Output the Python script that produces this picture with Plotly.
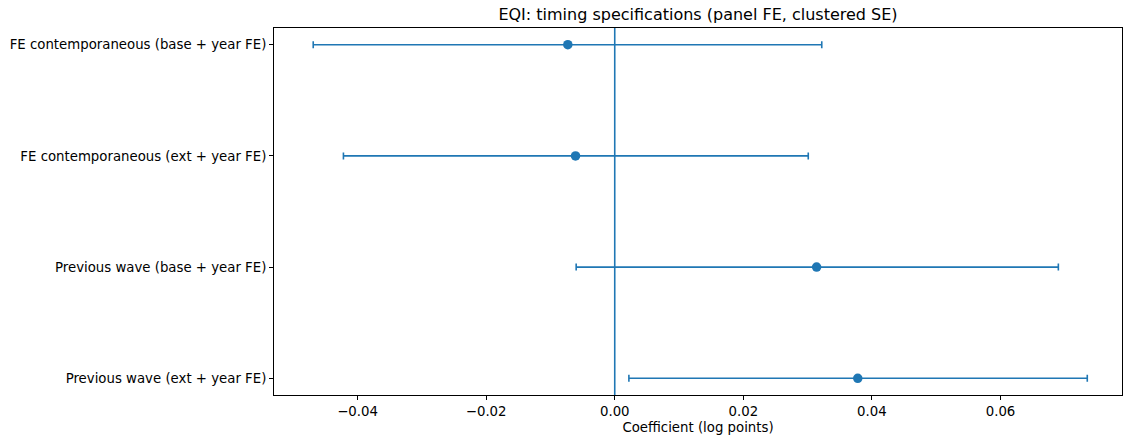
import plotly.graph_objects as go

labels = [
    "FE contemporaneous (base + year FE)",
    "FE contemporaneous (ext + year FE)",
    "Previous wave (base + year FE)",
    "Previous wave (ext + year FE)",
]
coef = [-0.0073, -0.0061, 0.0314, 0.0378]
ci_low = [-0.0469, -0.0422, -0.0060, 0.0022]
ci_high = [0.0322, 0.0301, 0.0690, 0.0735]
x_ticks = [-0.04, -0.02, 0.00, 0.02, 0.04, 0.06]
x_range = [-0.0530, 0.0789]

blue = "#1f77b4"
ypos = list(range(len(labels)))
err_plus = [h - c for h, c in zip(ci_high, coef)]
err_minus = [c - l for c, l in zip(coef, ci_low)]

fig = go.Figure()
fig.add_trace(go.Scatter(
    x=coef, y=ypos, mode="markers",
    marker=dict(color=blue, size=9.5),
    error_x=dict(type="data", symmetric=False, array=err_plus, arrayminus=err_minus,
                 color=blue, thickness=1.6, width=3.5),
    showlegend=False,
))

fig.add_shape(type="line", x0=0, x1=0, y0=0, y1=1, xref="x", yref="paper",
              line=dict(color=blue, width=1.6))

font = "DejaVu Sans, sans-serif"
fig.update_layout(
    width=1123, height=441,
    margin=dict(l=274, r=1, t=28, b=46),
    plot_bgcolor="white", paper_bgcolor="white",
    font=dict(family=font, size=13.3, color="black"),
    title=dict(text="EQI: timing specifications (panel FE, clustered SE)",
               x=(274 + 1122) / 2 / 1123, xanchor="center", y=1 - 14 / 441, yanchor="middle",
               font=dict(size=16, color="black", family=font)),
    xaxis=dict(range=x_range, tickvals=x_ticks,
               ticktext=[f"{v:.2f}".replace("-", "\u2212") for v in x_ticks],
               showgrid=False, zeroline=False, showline=True, linecolor="black", linewidth=1,
               mirror=True, ticks="outside", ticklen=4, tickcolor="black",
               title=dict(text="Coefficient (log points)", standoff=4, font=dict(size=13.3))),
    yaxis=dict(range=[len(labels) - 1 + 0.15, -0.15], tickvals=ypos, ticktext=labels,
               showgrid=False, zeroline=False, showline=True, linecolor="black", linewidth=1,
               mirror=True, ticks="outside", ticklen=4, tickcolor="black"),
)

fig.write_html("out.html", config={"displayModeBar": False})

with open("out.html", encoding="utf-8") as f:
    html = f.read()
html = html.replace("<head>", "<head><style>html,body{margin:0;padding:0;overflow:hidden;}</style>", 1)
with open("out.html", "w", encoding="utf-8") as f:
    f.write(html)
